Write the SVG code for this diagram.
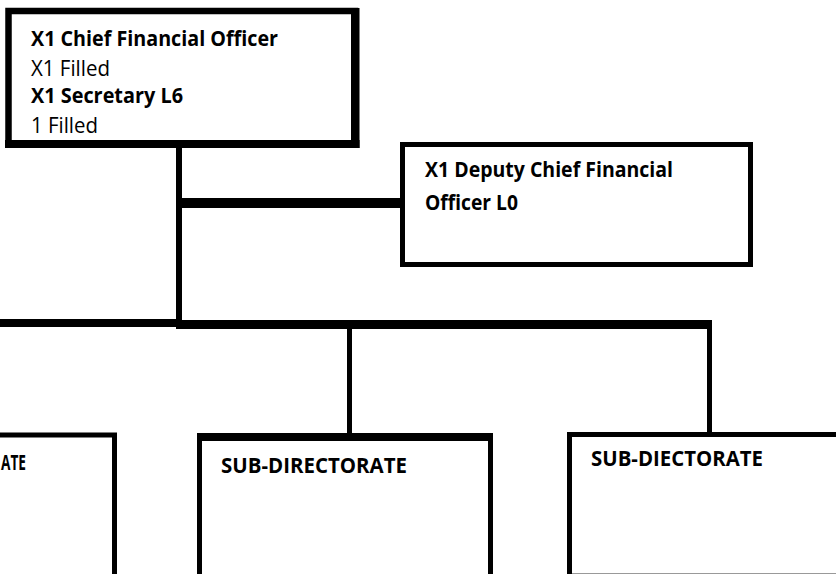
<svg xmlns="http://www.w3.org/2000/svg" width="836" height="574" viewBox="0 0 836 574">
  <style>
    .box { fill: #ffffff; stroke: #000000; }
    .wire { fill: none; stroke: #000000; stroke-linecap: butt; }
    .t { font-family: "Open Sans", "Liberation Sans", sans-serif; font-size: 21px; fill: #000000; }
    .b { font-weight: bold; }
  </style>
  <rect x="0" y="0" width="836" height="574" fill="#ffffff"/>

  <!-- reporting lines -->
  <g id="connectors">
    <line class="wire" x1="179" y1="143" x2="179" y2="327" stroke-width="6"/>
    <line class="wire" x1="179" y1="203" x2="402" y2="203" stroke-width="10"/>
    <line class="wire" x1="0" y1="323" x2="179" y2="323" stroke-width="8"/>
    <line class="wire" x1="176" y1="324.5" x2="712" y2="324.5" stroke-width="9"/>
    <line class="wire" x1="349.5" y1="328" x2="349.5" y2="440" stroke-width="5"/>
    <line class="wire" x1="709.5" y1="320" x2="709.5" y2="435" stroke-width="5"/>
  </g>

  <!-- chief financial officer: lighter top/left edges, heavier right/bottom edges -->
  <g id="cfo">
    <rect class="box" x="8.5" y="11" width="346.5" height="133" stroke-width="6.5"/>
    <rect x="351" y="8" width="8.5" height="140" fill="#000000"/>
    <rect x="5" y="140" width="354.5" height="8" fill="#000000"/>
    <text class="t b" x="31" y="46" textLength="247" lengthAdjust="spacingAndGlyphs">X1 Chief Financial Officer</text>
    <text class="t" x="31" y="76" textLength="79" lengthAdjust="spacingAndGlyphs">X1 Filled</text>
    <text class="t b" x="31" y="103" textLength="152" lengthAdjust="spacingAndGlyphs">X1 Secretary L6</text>
    <text class="t" x="31" y="133" textLength="67" lengthAdjust="spacingAndGlyphs">1 Filled</text>
  </g>

  <!-- deputy chief financial officer -->
  <g id="deputy-cfo">
    <rect class="box" x="402.5" y="144.5" width="348" height="120" stroke-width="5"/>
    <text class="t b" x="425" y="177" textLength="248" lengthAdjust="spacingAndGlyphs">X1 Deputy Chief Financial</text>
    <text class="t b" x="425" y="210" textLength="93" lengthAdjust="spacingAndGlyphs">Officer L0</text>
  </g>

  <!-- sub-directorate, left (runs past the left edge) -->
  <g id="sub-directorate-1">
    <rect class="box" x="-20" y="435" width="134.5" height="200" stroke-width="5"/>
    <text class="t b" x="1" y="470" textLength="25" lengthAdjust="spacingAndGlyphs">ATE</text>
  </g>

  <!-- sub-directorate, middle -->
  <g id="sub-directorate-2">
    <rect class="box" x="199.5" y="435.5" width="291" height="200" stroke-width="5"/>
    <rect x="197" y="433" width="296" height="8" fill="#000000"/>
    <text class="t b" x="221" y="473" textLength="186" lengthAdjust="spacingAndGlyphs">SUB-DIRECTORATE</text>
  </g>

  <!-- sub-directorate, right -->
  <g id="sub-directorate-3">
    <path d="M569.5,574 V434.5 H840" fill="none" stroke="#000000" stroke-width="5"/>
    <line x1="572" y1="573.5" x2="836" y2="573.5" stroke="#999999" stroke-width="1"/>
    <text class="t b" x="591" y="466" textLength="172" lengthAdjust="spacingAndGlyphs">SUB-DIECTORATE</text>
  </g>
</svg>
